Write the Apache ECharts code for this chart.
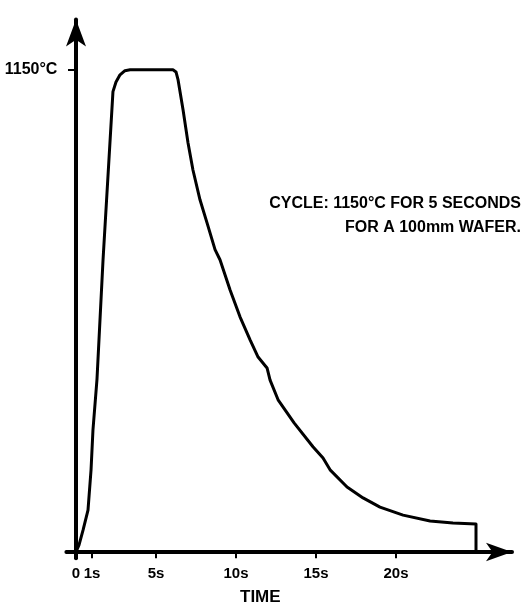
<!DOCTYPE html>
<html>
<head>
<meta charset="utf-8">
<script src="https://cdn.jsdelivr.net/npm/echarts@6/dist/echarts.min.js"></script>
<style>
  html, body { margin: 0; padding: 0; background: #fff; }
  #chart { width: 525px; height: 609px; }
</style>
</head>
<body>
<div id="chart"></div>
<script>
const timeSec = [0, 0.19, 0.44, 0.75, 0.94, 1.06, 1.31, 1.69, 2.31, 2.5, 2.75, 3.06, 3.38,
  6.06, 6.25, 6.38, 6.69, 7.0, 7.31, 7.75, 8.19, 8.69, 9.0, 9.63, 10.25, 10.88, 11.38,
  11.94, 12.13, 12.63, 13.63, 14.81, 15.44, 15.88, 16.94, 17.94, 19.0, 20.44, 22.13,
  23.56, 25.0, 25.0];
const tempC = [0, 17, 52, 100, 196, 291, 411, 697, 1098, 1121, 1138, 1148, 1150,
  1150, 1145, 1126, 1055, 976, 911, 840, 785, 721, 697, 625, 561, 506, 465,
  439, 410, 363, 308, 251, 224, 196, 155, 129, 107, 88, 74,
  69, 67, 0];
const xTicks = [0, 1, 5, 10, 15, 20];
const xTickLabels = ['0', '1s', '5s', '10s', '15s', '20s'];
const yTicks = [1150];
const yTickLabels = ['1150°C'];

const font = 'Liberation Sans';
const ink = '#000';

const points = timeSec.map((t, i) => [t, tempC[i]]);

const chart = echarts.init(document.getElementById('chart'));
chart.setOption({
  animation: false,
  backgroundColor: '#fff',
  grid: { left: 66.4, right: 13, top: 19.5, bottom: 50.7 },
  xAxis: [{
    type: 'value',
    min: -0.6,
    max: 27.25,
    splitLine: { show: false },
    axisLine: {
      onZero: true,
      lineStyle: { color: ink, width: 4 },
      symbol: ['none', 'arrow'],
      symbolSize: [14, 26]
    },
    axisTick: {
      length: 6,
      lineStyle: { color: ink, width: 2 },
      customValues: xTicks
    },
    axisLabel: {
      margin: 8,
      color: ink,
      fontFamily: font,
      fontWeight: 'bold',
      fontSize: 15,
      customValues: xTicks,
      formatter: v => xTickLabels[xTicks.indexOf(v)]
    }
  }, {
    // upper half of the crossing ticks
    type: 'value',
    position: 'bottom',
    min: -0.6,
    max: 27.25,
    splitLine: { show: false },
    axisLine: { show: false, onZero: true },
    axisTick: {
      inside: true,
      length: 6,
      lineStyle: { color: ink, width: 2 },
      customValues: xTicks
    },
    axisLabel: { show: false }
  }],
  yAxis: {
    type: 'value',
    min: -15,
    max: 1270,
    splitLine: { show: false },
    axisLine: {
      onZero: true,
      lineStyle: { color: ink, width: 4 },
      symbol: ['none', 'arrow'],
      symbolSize: [15, 27]
    },
    axisTick: {
      length: 8,
      lineStyle: { color: ink, width: 2 },
      customValues: yTicks
    },
    axisLabel: {
      margin: 9,
      color: ink,
      fontFamily: font,
      fontWeight: 'bold',
      fontSize: 16,
      customValues: yTicks,
      formatter: v => yTickLabels[yTicks.indexOf(v)]
    }
  },
  graphic: [
    {
      type: 'text', right: 4, top: 196,
      style: { text: 'CYCLE: 1150°C FOR 5 SECONDS', fill: ink, font: 'bold 16px ' + font, textAlign: 'right' }
    },
    {
      type: 'text', right: 4, top: 220,
      style: { text: 'FOR A 100mm WAFER.', fill: ink, font: 'bold 16px ' + font, textAlign: 'right' }
    },
    {
      type: 'text', left: 240, top: 589,
      style: { text: 'TIME', fill: ink, font: 'bold 17px ' + font }
    }
  ],
  series: [{
    type: 'line',
    data: points,
    showSymbol: false,
    smooth: false,
    lineStyle: { color: ink, width: 3, join: 'round' }
  }]
});
</script>
</body>
</html>
